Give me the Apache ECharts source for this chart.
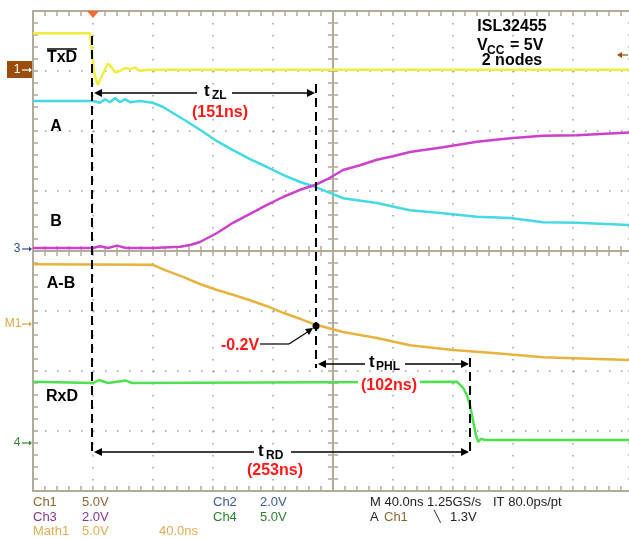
<!DOCTYPE html>
<html>
<head>
<meta charset="utf-8">
<script src="https://cdn.jsdelivr.net/npm/echarts@6.0.0/dist/echarts.min.js"></script>
<style>
  html, body { margin: 0; padding: 0; background: #fff; }
  #scope { width: 629px; height: 539px; }
</style>
</head>
<body>
<div id="scope"></div>
<script>
// time in ns (trigger = 0, 40 ns/div), level in screen divisions (centre = 0)
var txd = [[-40, 3.63], [-2, 3.63], [-0.7, 3.3], [0.7, 3.0], [2, 2.85], [3.3, 2.77], [6, 2.92], [10, 3.13],
  [12.7, 3.05], [14.7, 2.98], [18, 3.0], [21.3, 3.05], [24.7, 3.03], [28, 3.06], [31.3, 3.0], [36.7, 3.02], [360, 3.02]]
var chA = [[-40, 2.5], [0, 2.5], [4.7, 2.47], [8, 2.53], [11.3, 2.48], [14.7, 2.55], [18, 2.48], [21.3, 2.53],
  [24.7, 2.48], [31.3, 2.5], [40, 2.47], [46.7, 2.4], [53.3, 2.3], [61.3, 2.18], [71.3, 2.02], [82.7, 1.83],
  [93.3, 1.68], [104.7, 1.53], [116, 1.4], [126.7, 1.27], [138, 1.15], [148, 1.07], [158, 0.97], [166.7, 0.88],
  [189.3, 0.8], [211.3, 0.68], [233.3, 0.63], [256, 0.57], [278, 0.55], [300, 0.48], [322.7, 0.47], [360, 0.43]]
var chB = [[-40, 0.05], [0, 0.05], [4.7, 0.08], [10, 0.05], [16, 0.09], [22, 0.05], [40, 0.05], [58, 0.07],
  [64.7, 0.1], [71.3, 0.15], [82.7, 0.3], [93.3, 0.47], [104.7, 0.62], [116, 0.77], [126.7, 0.9], [138, 1.02],
  [148, 1.1], [158, 1.22], [166.7, 1.35], [178, 1.43], [189.3, 1.52], [200, 1.58], [211.3, 1.65], [233.3, 1.73],
  [256, 1.82], [278, 1.88], [300, 1.92], [322.7, 1.93], [360, 1.98]]
var mathAB = [[-40, -0.22], [40, -0.23], [48, -0.32], [60, -0.43], [71.3, -0.55], [82.7, -0.65], [93.3, -0.73],
  [104.7, -0.82], [116, -0.92], [126.7, -1.03], [138, -1.13], [148.7, -1.23], [166.7, -1.35], [189.3, -1.45],
  [211.3, -1.57], [240, -1.65], [266.7, -1.7], [300, -1.77], [360, -1.82]]
var rxd = [[-40, -2.18], [0, -2.2], [4, -2.15], [10, -2.2], [22, -2.16], [26, -2.2], [242.7, -2.18],
  [246.7, -2.28], [249.3, -2.4], [251.3, -2.57], [253.3, -2.82], [255.3, -3.07], [256.7, -3.18],
  [258.7, -3.13], [261.3, -3.15], [360, -3.15]]

var frame = '#b3aa9a'
var myChart = echarts.init(document.getElementById('scope'))

function frameAxis(pos, offset, inside, dim) {
  return {
    type: 'value', min: dim === 'x' ? -40 : -4, max: dim === 'x' ? 360 : 4, interval: dim === 'x' ? 40 : 1,
    position: pos, offset: offset,
    axisLine: { show: true, onZero: false, lineStyle: { color: frame, width: 2 } },
    axisTick: { show: true, inside: inside, length: 5, lineStyle: { color: frame, width: 1.5 } },
    minorTick: { show: true, splitNumber: 5, length: 5, lineStyle: { color: frame, width: 1.5 } },
    axisLabel: { show: false },
    splitLine: { show: false }
  }
}

var xMain = frameAxis('bottom', 0, true, 'x')
xMain.splitLine = { show: true, lineStyle: { color: '#9c9c9c', width: 1.5, type: [1.5, 10.5] } }
var yMain = frameAxis('left', 0, true, 'y')
yMain.splitLine = { show: true, lineStyle: { color: '#9c9c9c', width: 1.5, type: [1.5, 10.5] } }

// annotation helpers (pixel positions)
function seg(x1, y1, x2, y2, w, dash, color) {
  return { type: 'line', z: 100, shape: { x1: x1, y1: y1, x2: x2, y2: y2 },
    style: { stroke: color || '#000', lineWidth: w || 1.5, lineDash: dash || null } }
}
function tri(pts, color) {
  return { type: 'polygon', z: 100, shape: { points: pts }, style: { fill: color || '#000' } }
}
function txt(x, y, text, font, color, align, bg) {
  var s = { text: text, font: font, fill: color || '#000', align: align || 'center', verticalAlign: 'middle' }
  if (bg) { s.backgroundColor = bg; s.padding = [1, 3] }
  return { type: 'text', z: 101, x: x, y: y, style: s }
}
function marker(x, y, color) {
  return [seg(x, y, x + 7, y, 1.2, null, color), tri([[x + 7, y - 2.5], [x + 10, y], [x + 7, y + 2.5]], color)]
}

var B16 = 'bold 16px "Liberation Sans", Arial, sans-serif'
var B12 = 'bold 12px "Liberation Sans", Arial, sans-serif'
var N13 = '13px "Liberation Sans", Arial, sans-serif'

var g = []
// trigger mark
g.push(tri([[87, 11], [99, 11], [93, 18]], '#ff6a33'))
// channel markers on the left / right
g.push({ type: 'rect', z: 100, shape: { x: 7, y: 61, width: 25, height: 17 }, style: { fill: '#9b4d0b' } })
g.push(txt(17, 70, '1', '12px "Liberation Sans", Arial', '#fff'))
g = g.concat(marker(22, 70, '#fff'))
g.push(txt(17, 249, '3', '12px "Liberation Sans", Arial', '#2d4f8f'))
g = g.concat(marker(22, 249, '#2d4f8f'))
g.push(txt(13, 324, 'M1', '12px "Liberation Sans", Arial', '#d9a64a'))
g = g.concat(marker(22, 324, '#d9a64a'))
g.push(txt(17, 443, '4', '12px "Liberation Sans", Arial', '#2e8b2e'))
g = g.concat(marker(22, 443, '#2e8b2e'))
g.push(seg(619, 55, 628, 55, 1.2, null, '#9b4d0b'))
g.push(tri([[617, 55], [622, 52], [622, 58]], '#9b4d0b'))

// trace names
g.push(txt(62, 58, 'TxD', B16))
g.push(seg(47, 49, 77, 49, 1.5))
g.push(txt(56, 127, 'A', B16))
g.push(txt(56, 222, 'B', B16))
g.push(txt(61, 284, 'A-B', B16))
g.push(txt(62, 397, 'RxD', B16))

// title block
g.push(txt(512, 27, 'ISL32455', B16))
g.push(txt(477, 46, 'V', B16, '#000', 'left'))
g.push(txt(487, 51, 'CC', B12, '#000', 'left'))
g.push(txt(510, 46, '= 5V', B16, '#000', 'left'))
g.push(txt(512, 61, '2 nodes', B16))

// cursors
g.push(seg(92, 36, 92, 455, 2, [9, 5]))
g.push(seg(316, 84, 316, 368, 2, [9, 5]))
g.push(seg(470, 358, 470, 455, 2, [9, 5]))

// tZL
g.push(seg(96, 93, 197, 93, 1.5))
g.push(seg(232, 93, 310, 93, 1.5))
g.push(tri([[94, 93], [102, 89], [102, 97]]))
g.push(tri([[315, 93], [307, 89], [307, 97]]))
g.push(txt(204, 91, 't', 'bold 17px "Liberation Sans", Arial', '#000', 'left'))
g.push(txt(212, 96, 'ZL', B12, '#000', 'left'))
g.push(txt(220, 113, '(151ns)', B16, '#ff1a1a'))

// tPHL
g.push(seg(320, 364, 365, 364, 1.5))
g.push(seg(405, 364, 464, 364, 1.5))
g.push(tri([[318, 364], [326, 360], [326, 368]]))
g.push(tri([[469, 364], [461, 360], [461, 368]]))
g.push(txt(369, 362, 't', 'bold 17px "Liberation Sans", Arial', '#000', 'left'))
g.push(txt(376, 367, 'PHL', B12, '#000', 'left'))
g.push(txt(389, 386, '(102ns)', B16, '#ff1a1a', 'center', '#fff'))

// tRD
g.push(seg(96, 452, 254, 452, 1.5))
g.push(seg(291, 452, 464, 452, 1.5))
g.push(tri([[94, 452], [102, 448], [102, 456]]))
g.push(tri([[469, 452], [461, 448], [461, 456]]))
g.push(txt(258, 451, 't', 'bold 17px "Liberation Sans", Arial', '#000', 'left'))
g.push(txt(266, 456, 'RD', B12, '#000', 'left'))
g.push(txt(275, 471, '(253ns)', B16, '#ff1a1a'))

// -0.2V threshold point
g.push(txt(240, 346, '-0.2V', B16, '#ff1a1a'))
g.push(seg(260, 344, 289, 344, 1.2))
g.push(seg(289, 344, 309, 331, 1.2))
g.push(tri([[313, 328], [305, 329], [309, 335]]))
g.push({ type: 'circle', z: 102, shape: { cx: 316, cy: 326, r: 3.5 }, style: { fill: '#000' } })

// readout
g.push(txt(33, 502, 'Ch1', N13, '#8c6533', 'left'))
g.push(txt(82, 502, '5.0V', N13, '#8c6533', 'left'))
g.push(txt(213, 502, 'Ch2', N13, '#3c5a96', 'left'))
g.push(txt(260, 502, '2.0V', N13, '#3c5a96', 'left'))
g.push(txt(33, 517, 'Ch3', N13, '#86358f', 'left'))
g.push(txt(82, 517, '2.0V', N13, '#86358f', 'left'))
g.push(txt(213, 517, 'Ch4', N13, '#2f7d2f', 'left'))
g.push(txt(260, 517, '5.0V', N13, '#2f7d2f', 'left'))
g.push(txt(33, 531, 'Math1', N13, '#e0ac55', 'left'))
g.push(txt(82, 531, '5.0V', N13, '#e0ac55', 'left'))
g.push(txt(159, 531, '40.0ns', N13, '#e0ac55', 'left'))
g.push(txt(370, 502, 'M 40.0ns 1.25GS/s', N13, '#222', 'left'))
g.push(txt(493, 502, 'IT 80.0ps/pt', N13, '#222', 'left'))
g.push(txt(370, 517, 'A', N13, '#222', 'left'))
g.push(txt(384, 517, 'Ch1', N13, '#8c6533', 'left'))
g.push(txt(434, 517, '\u2572', '11px "DejaVu Sans"', '#222', 'left'))
g.push(txt(450, 517, '1.3V', N13, '#222', 'left'))

function trace(data, color) {
  return { type: 'line', data: data, showSymbol: false, symbol: 'none', animation: false, z: 5,
    lineStyle: { color: color, width: 2.5 }, itemStyle: { color: color } }
}

var option = {
  animation: false,
  backgroundColor: '#fff',
  grid: { left: 33, top: 11, width: 600, height: 480, containLabel: false, outerBoundsMode: 'none' },
  xAxis: [xMain, frameAxis('top', 0, true, 'x'), frameAxis('bottom', -240, true, 'x'), frameAxis('top', -240, true, 'x')],
  yAxis: [yMain, frameAxis('right', 0, true, 'y'), frameAxis('left', -300, true, 'y'), frameAxis('right', -300, true, 'y')],
  series: [
    trace(txd, '#f0ee3c'),
    trace(chA, '#44d9e3'),
    trace(chB, '#cc40cc'),
    trace(mathAB, '#e8b23e'),
    trace(rxd, '#4fe04f')
  ],
  graphic: g
}
myChart.setOption(option)
window.onresize = function() {
  myChart.resize()
}
</script>
</body>
</html>
